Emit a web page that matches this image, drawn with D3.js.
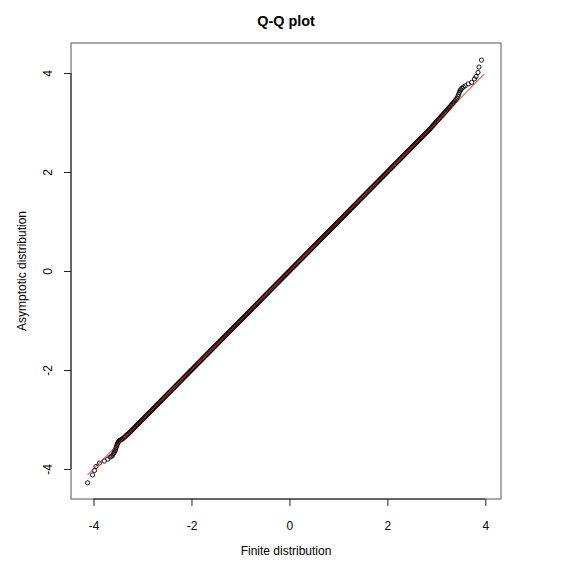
<!DOCTYPE html>
<html>
<head>
<meta charset="utf-8">
<script src="https://cdn.jsdelivr.net/npm/d3@7"></script>
<style>
  body { margin: 0; background: #fff; }
  text { font-family: "Liberation Sans", Arial, Helvetica, sans-serif; fill: #000; }
</style>
</head>
<body>
<svg id="qq_plot"></svg>
<script>
// quantiles (x = finite, y = asymptotic)
let lowTailFinite = [-4.12, -4.02, -3.98, -3.95, -3.88, -3.78, -3.71, -3.66, -3.63, -3.61, -3.59, -3.575, -3.56, -3.55, -3.54, -3.53, -3.52, -3.51, -3.50, -3.49, -3.48, -3.46, -3.44];
let lowTailAsym   = [-4.28, -4.12, -4.03, -3.95, -3.88, -3.84, -3.80, -3.76, -3.74, -3.72, -3.69, -3.66, -3.63, -3.60, -3.57, -3.54, -3.51, -3.49, -3.47, -3.45, -3.43, -3.42, -3.41];

let bodyFinite = [
  -3.42,-3.40,-3.38,-3.36,-3.34,-3.32,-3.30,-3.28,-3.26,-3.24,
  -3.22,-3.20,-3.18,-3.16,-3.14,-3.12,-3.10,-3.08,-3.06,-3.04,
  -3.02,-3.00,-2.98,-2.96,-2.94,-2.92,-2.90,-2.88,-2.86,-2.84,
  -2.82,-2.80,-2.78,-2.76,-2.74,-2.72,-2.70,-2.68,-2.66,-2.64,
  -2.62,-2.60,-2.58,-2.56,-2.54,-2.52,-2.50,-2.48,-2.46,-2.44,
  -2.42,-2.40,-2.38,-2.36,-2.34,-2.32,-2.30,-2.28,-2.26,-2.24,
  -2.22,-2.20,-2.18,-2.16,-2.14,-2.12,-2.10,-2.08,-2.06,-2.04,
  -2.02,-2.00,-1.98,-1.96,-1.94,-1.92,-1.90,-1.88,-1.86,-1.84,
  -1.82,-1.80,-1.78,-1.76,-1.74,-1.72,-1.70,-1.68,-1.66,-1.64,
  -1.62,-1.60,-1.58,-1.56,-1.54,-1.52,-1.50,-1.48,-1.46,-1.44,
  -1.42,-1.40,-1.38,-1.36,-1.34,-1.32,-1.30,-1.28,-1.26,-1.24,
  -1.22,-1.20,-1.18,-1.16,-1.14,-1.12,-1.10,-1.08,-1.06,-1.04,
  -1.02,-1.00,-0.98,-0.96,-0.94,-0.92,-0.90,-0.88,-0.86,-0.84,
  -0.82,-0.80,-0.78,-0.76,-0.74,-0.72,-0.70,-0.68,-0.66,-0.64,
  -0.62,-0.60,-0.58,-0.56,-0.54,-0.52,-0.50,-0.48,-0.46,-0.44,
  -0.42,-0.40,-0.38,-0.36,-0.34,-0.32,-0.30,-0.28,-0.26,-0.24,
  -0.22,-0.20,-0.18,-0.16,-0.14,-0.12,-0.10,-0.08,-0.06,-0.04,
  -0.02,0.00,0.02,0.04,0.06,0.08,0.10,0.12,0.14,0.16,
  0.18,0.20,0.22,0.24,0.26,0.28,0.30,0.32,0.34,0.36,
  0.38,0.40,0.42,0.44,0.46,0.48,0.50,0.52,0.54,0.56,
  0.58,0.60,0.62,0.64,0.66,0.68,0.70,0.72,0.74,0.76,
  0.78,0.80,0.82,0.84,0.86,0.88,0.90,0.92,0.94,0.96,
  0.98,1.00,1.02,1.04,1.06,1.08,1.10,1.12,1.14,1.16,
  1.18,1.20,1.22,1.24,1.26,1.28,1.30,1.32,1.34,1.36,
  1.38,1.40,1.42,1.44,1.46,1.48,1.50,1.52,1.54,1.56,
  1.58,1.60,1.62,1.64,1.66,1.68,1.70,1.72,1.74,1.76,
  1.78,1.80,1.82,1.84,1.86,1.88,1.90,1.92,1.94,1.96,
  1.98,2.00,2.02,2.04,2.06,2.08,2.10,2.12,2.14,2.16,
  2.18,2.20,2.22,2.24,2.26,2.28,2.30,2.32,2.34,2.36,
  2.38,2.40,2.42,2.44,2.46,2.48,2.50,2.52,2.54,2.56,
  2.58,2.60,2.62,2.64,2.66,2.68,2.70,2.72,2.74,2.76,
  2.78,2.80,2.82,2.84,2.86,2.88,2.90,2.92,2.94,2.96,
  2.98,3.00,3.02,3.04,3.06,3.08,3.10,3.12,3.14,3.16,
  3.18,3.20,3.22,3.24,3.26,3.28,3.30,3.32,3.34,3.36,
  3.38,3.40,3.42
];
let bodyAsym = [
  -3.40,-3.385,-3.365,-3.35,-3.33,-3.31,-3.30,-3.28,-3.26,-3.24,
  -3.22,-3.20,-3.18,-3.16,-3.14,-3.12,-3.10,-3.08,-3.06,-3.04,
  -3.02,-3.00,-2.98,-2.96,-2.94,-2.92,-2.90,-2.88,-2.86,-2.84,
  -2.82,-2.80,-2.78,-2.76,-2.74,-2.72,-2.70,-2.68,-2.66,-2.64,
  -2.62,-2.60,-2.58,-2.56,-2.54,-2.52,-2.50,-2.48,-2.46,-2.44,
  -2.42,-2.40,-2.38,-2.36,-2.34,-2.32,-2.30,-2.28,-2.26,-2.24,
  -2.22,-2.20,-2.18,-2.16,-2.14,-2.12,-2.10,-2.08,-2.06,-2.04,
  -2.02,-2.00,-1.98,-1.96,-1.94,-1.92,-1.90,-1.88,-1.86,-1.84,
  -1.82,-1.80,-1.78,-1.76,-1.74,-1.72,-1.70,-1.68,-1.66,-1.64,
  -1.62,-1.60,-1.58,-1.56,-1.54,-1.52,-1.50,-1.48,-1.46,-1.44,
  -1.42,-1.40,-1.38,-1.36,-1.34,-1.32,-1.30,-1.28,-1.26,-1.24,
  -1.22,-1.20,-1.18,-1.16,-1.14,-1.12,-1.10,-1.08,-1.06,-1.04,
  -1.02,-1.00,-0.98,-0.96,-0.94,-0.92,-0.90,-0.88,-0.86,-0.84,
  -0.82,-0.80,-0.78,-0.76,-0.74,-0.72,-0.70,-0.68,-0.66,-0.64,
  -0.62,-0.60,-0.58,-0.56,-0.54,-0.52,-0.50,-0.48,-0.46,-0.44,
  -0.42,-0.40,-0.38,-0.36,-0.34,-0.32,-0.30,-0.28,-0.26,-0.24,
  -0.22,-0.20,-0.18,-0.16,-0.14,-0.12,-0.10,-0.08,-0.06,-0.04,
  -0.02,0.00,0.02,0.04,0.06,0.08,0.10,0.12,0.14,0.16,
  0.18,0.20,0.22,0.24,0.26,0.28,0.30,0.32,0.34,0.36,
  0.38,0.40,0.42,0.44,0.46,0.48,0.50,0.52,0.54,0.56,
  0.58,0.60,0.62,0.64,0.66,0.68,0.70,0.72,0.74,0.76,
  0.78,0.80,0.82,0.84,0.86,0.88,0.90,0.92,0.94,0.96,
  0.98,1.00,1.02,1.04,1.06,1.08,1.10,1.12,1.14,1.16,
  1.18,1.20,1.22,1.24,1.26,1.28,1.30,1.32,1.34,1.36,
  1.38,1.40,1.42,1.44,1.46,1.48,1.50,1.52,1.54,1.56,
  1.58,1.60,1.62,1.64,1.66,1.68,1.70,1.72,1.74,1.76,
  1.78,1.80,1.82,1.84,1.86,1.88,1.90,1.92,1.94,1.96,
  1.98,2.00,2.02,2.04,2.06,2.08,2.10,2.12,2.14,2.16,
  2.18,2.20,2.22,2.24,2.26,2.28,2.30,2.32,2.34,2.36,
  2.38,2.40,2.42,2.44,2.46,2.48,2.50,2.52,2.54,2.56,
  2.58,2.60,2.62,2.64,2.66,2.68,2.70,2.72,2.74,2.76,
  2.78,2.80,2.82,2.84,2.86,2.88,2.905,2.925,2.95,2.97,
  2.99,3.015,3.035,3.06,3.08,3.10,3.125,3.145,3.165,3.19,
  3.21,3.23,3.255,3.275,3.30,3.32,3.345,3.365,3.39,3.41,
  3.44,3.46,3.49
];

let highTailFinite = [3.44, 3.455, 3.47, 3.485, 3.50, 3.52, 3.55, 3.59, 3.65, 3.72, 3.78, 3.81, 3.85, 3.87, 3.92];
let highTailAsym   = [3.53, 3.57, 3.61, 3.64, 3.665, 3.69, 3.715, 3.74, 3.78, 3.81, 3.88, 3.93, 4.01, 4.12, 4.26];

// red reference line
let refFinite = [-4.12, 3.98];
let refAsym   = [-4.12, 3.98];

let xTicks = [-4, -2, 0, 2, 4];
let yTicks = [-4, -2, 0, 2, 4];

function makeQQPlot() {
    let w = 573;
    let h = 572;
    let left = 71, right = 501, top = 43, bottom = 499;

    let svg = d3.select('#qq_plot')
        .attr('width', w)
        .attr('height', h);

    let xScale = d3.scaleLinear()
        .domain([-4.46, 4.32])
        .range([left, right]);

    let yScale = d3.scaleLinear()
        .domain([-4.606, 4.606])
        .range([bottom, top]);

    let points = [];
    [[lowTailFinite, lowTailAsym], [bodyFinite, bodyAsym], [highTailFinite, highTailAsym]]
        .forEach(pair => pair[0].forEach((v, i) => points.push({ x: v, y: pair[1][i] })));

    svg.append('g')
        .selectAll('circle')
        .data(points)
        .join('circle')
        .attr('cx', d => xScale(d.x))
        .attr('cy', d => yScale(d.y))
        .attr('r', 2.1)
        .attr('fill', 'none')
        .attr('stroke', '#000')
        .attr('stroke-width', 0.9);

    let line = d3.line()
        .x(d => xScale(d[0]))
        .y(d => yScale(d[1]));

    svg.append('path')
        .datum(refFinite.map((v, i) => [v, refAsym[i]]))
        .attr('fill', 'none')
        .attr('stroke', '#ff0000')
        .attr('stroke-width', 1)
        .attr('d', line);

    // box round the plot
    svg.append('rect')
        .attr('x', left)
        .attr('y', top)
        .attr('width', right - left)
        .attr('height', bottom - top)
        .attr('fill', 'none')
        .attr('stroke', '#555')
        .attr('stroke-width', 1);

    let xAxis = d3.axisBottom(xScale)
        .tickValues(xTicks)
        .tickSize(7)
        .tickPadding(15)
        .tickFormat(d => String(d));
    let xAxisGroup = svg.append('g')
        .attr('transform', `translate(0, ${bottom})`)
        .call(xAxis);
    xAxisGroup.select('.domain').remove();
    xAxisGroup.append('line')
        .attr('x1', xScale(xTicks[0]))
        .attr('x2', xScale(xTicks[xTicks.length - 1]))
        .attr('stroke', '#222');
    xAxisGroup.selectAll('line').attr('stroke', '#222');
    xAxisGroup.selectAll('text')
        .attr('font-size', 12)
        .attr('fill', '#000');

    let yAxis = d3.axisLeft(yScale)
        .tickValues(yTicks)
        .tickSize(7)
        .tickFormat(d => String(d));
    let yAxisGroup = svg.append('g')
        .attr('transform', `translate(${left}, 0)`)
        .call(yAxis);
    yAxisGroup.select('.domain').remove();
    yAxisGroup.append('line')
        .attr('y1', yScale(yTicks[0]))
        .attr('y2', yScale(yTicks[yTicks.length - 1]))
        .attr('stroke', '#222');
    yAxisGroup.selectAll('line').attr('stroke', '#222');
    yAxisGroup.selectAll('text')
        .attr('x', 0)
        .attr('dy', null)
        .attr('text-anchor', 'middle')
        .attr('transform', 'translate(-19, 0) rotate(-90)')
        .attr('font-size', 12)
        .attr('fill', '#000');

    svg.selectAll('g').attr('font-family', null);

    svg.append('text')
        .attr('x', (left + right) / 2)
        .attr('y', 26)
        .attr('text-anchor', 'middle')
        .attr('font-size', 14.4)
        .attr('font-weight', 'bold')
        .text('Q-Q plot');

    svg.append('text')
        .attr('x', (left + right) / 2)
        .attr('y', 555)
        .attr('text-anchor', 'middle')
        .attr('font-size', 12)
        .text('Finite distribution');

    svg.append('text')
        .attr('transform', `translate(26, ${(top + bottom) / 2}) rotate(-90)`)
        .attr('text-anchor', 'middle')
        .attr('font-size', 12)
        .text('Asymptotic distribution');
}

window.onload = function() {
    makeQQPlot();
}
</script>
</body>
</html>
